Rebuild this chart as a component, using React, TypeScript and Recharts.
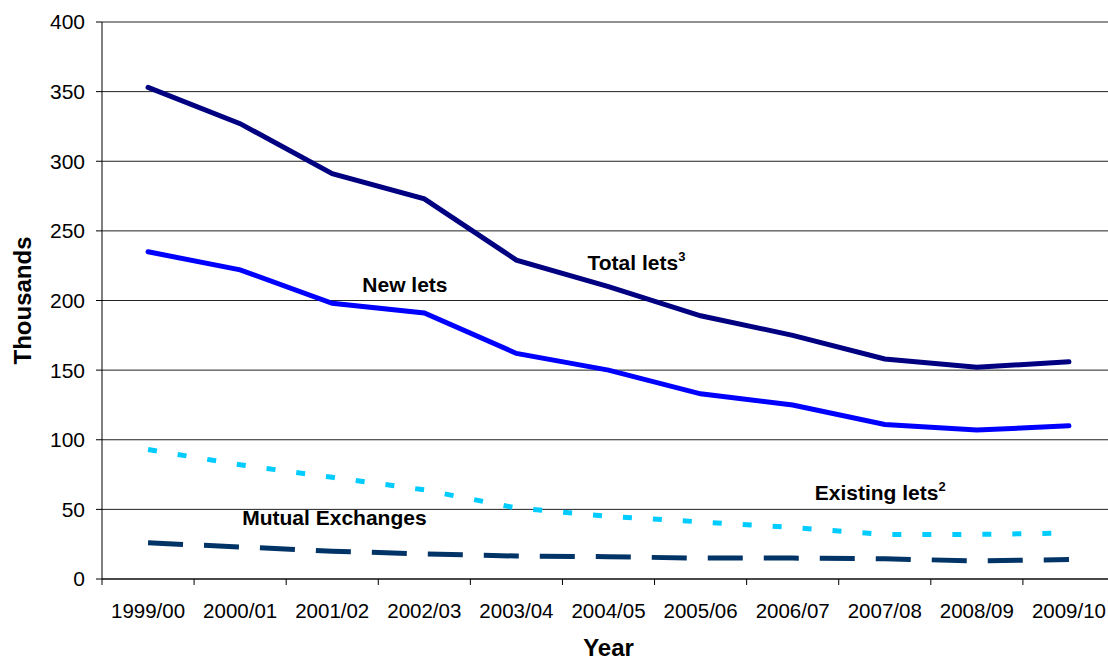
import React from "react";
import {
  LineChart,
  Line,
  XAxis,
  YAxis,
  CartesianGrid,
  ReferenceDot,
} from "recharts";

// Years on the category axis
const years = [
  "1999/00",
  "2000/01",
  "2001/02",
  "2002/03",
  "2003/04",
  "2004/05",
  "2005/06",
  "2006/07",
  "2007/08",
  "2008/09",
  "2009/10",
];

// Values in thousands
const totalLets = [353, 327, 291, 273, 229, 210, 189, 175, 158, 152, 156];
const newLets = [235, 222, 198, 191, 162, 150, 133, 125, 111, 107, 110];
const existingLets = [93, 82, 73, 64, 51, 45, 41, 37, 32, 32, 33];
const mutualExchanges = [26, 23, 20, 18, 16.5, 16, 15, 15, 14.5, 13, 14];

const yTicks = [0, 50, 100, 150, 200, 250, 300, 350, 400];

const data = years.map((year, i) => ({
  year,
  total: totalLets[i],
  newLets: newLets[i],
  existing: existingLets[i],
  mutual: mutualExchanges[i],
}));

const FONT = "'Liberation Sans', Arial, sans-serif";
const TICK_SIZE = 6;
const TICK_MARGIN = 18;

// in-chart series labels, anchored to a category and a value
const annotations = [
  { text: "Total lets", sup: "3", year: "2004/05", value: 222, dx: -21 },
  { text: "New lets", sup: "", year: "2002/03", value: 206, dx: -62 },
  { text: "Existing lets", sup: "2", year: "2007/08", value: 57, dx: -70 },
  { text: "Mutual Exchanges", sup: "", year: "2001/02", value: 39, dx: -90 },
];

// category label in the middle of the band, tick mark on the band edges
const YearTick = (props: any) => {
  const { x, y, payload, index } = props;
  const half = payload.offset || 0;
  const lineTop = y - TICK_MARGIN - TICK_SIZE;
  const isLast = index === years.length - 1;
  return (
    <g>
      <line
        x1={x - half}
        x2={x - half}
        y1={lineTop}
        y2={lineTop + TICK_SIZE}
        stroke="#000"
      />
      {isLast && (
        <line
          x1={x + half}
          x2={x + half}
          y1={lineTop}
          y2={lineTop + TICK_SIZE}
          stroke="#000"
        />
      )}
      <text
        x={x}
        y={y}
        dy="0.71em"
        textAnchor="middle"
        fontSize={20.5}
        fontFamily={FONT}
        fill="#000"
      >
        {payload.value}
      </text>
    </g>
  );
};

const App: React.FC = () => {
  return (
    <div
      style={{
        position: "absolute",
        left: 0,
        top: 0,
        width: 1108,
        height: 661,
        overflow: "hidden",
        background: "#fff",
      }}
    >
      <LineChart
        width={1115}
        height={661}
        data={data}
        margin={{ top: 22, right: 0, bottom: 0, left: 0 }}
        style={{ fontFamily: FONT }}
      >
        <CartesianGrid vertical={false} stroke="#222" />
        <XAxis
          dataKey="year"
          scale="band"
          height={82}
          stroke="#000"
          tickLine={false}
          tickSize={TICK_SIZE}
          tickMargin={TICK_MARGIN}
          interval={0}
          tick={<YearTick />}
          label={{
            content: (props: any) => {
              const vb = props.viewBox;
              return (
                <text
                  x={vb.x + vb.width / 2}
                  y={vb.y + 77}
                  textAnchor="middle"
                  fontSize={24}
                  fontWeight="bold"
                  fontFamily={FONT}
                  fill="#000"
                >
                  Year
                </text>
              );
            },
          }}
        />
        <YAxis
          width={102}
          domain={[0, 400]}
          ticks={yTicks}
          stroke="#000"
          tickSize={6}
          tickMargin={11}
          tick={{ fill: "#000", fontSize: 21, fontFamily: FONT }}
          label={{
            content: (props: any) => {
              const vb = props.viewBox;
              const cx = vb.x + 31;
              const cy = vb.y + vb.height / 2;
              return (
                <text
                  x={cx}
                  y={cy}
                  transform={`rotate(-90, ${cx}, ${cy})`}
                  textAnchor="middle"
                  fontSize={24}
                  fontWeight="bold"
                  fontFamily={FONT}
                  fill="#000"
                >
                  Thousands
                </text>
              );
            },
          }}
        />
        <Line
          dataKey="mutual"
          stroke="#003366"
          strokeWidth={5}
          strokeDasharray="35 21"
          dot={false}
          isAnimationActive={false}
        />
        <Line
          dataKey="existing"
          stroke="#00CCFF"
          strokeWidth={5}
          strokeDasharray="9 21"
          dot={false}
          isAnimationActive={false}
        />
        <Line
          dataKey="newLets"
          stroke="#0000FF"
          strokeWidth={5}
          strokeLinecap="round"
          dot={false}
          isAnimationActive={false}
        />
        <Line
          dataKey="total"
          stroke="#000080"
          strokeWidth={5}
          strokeLinecap="round"
          dot={false}
          isAnimationActive={false}
        />
        {annotations.map((a) => (
          <ReferenceDot
            key={a.text}
            x={a.year}
            y={a.value}
            r={0}
            fill="none"
            stroke="none"
            ifOverflow="visible"
            label={{
              content: (props: any) => {
                const vb = props.viewBox;
                return (
                  <text
                    x={vb.x + a.dx}
                    y={vb.y}
                    fontSize={21}
                    fontWeight="bold"
                    fontFamily={FONT}
                    fill="#000"
                  >
                    {a.text}
                    {a.sup && (
                      <tspan dy={-9} fontSize={13}>
                        {a.sup}
                      </tspan>
                    )}
                  </text>
                );
              },
            }}
          />
        ))}
      </LineChart>
    </div>
  );
};

export default App;
